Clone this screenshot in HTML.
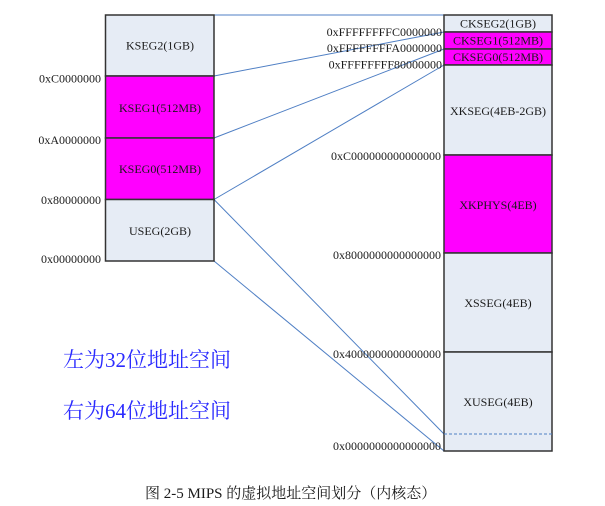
<!DOCTYPE html>
<html><head><meta charset="utf-8"><style>
html,body{margin:0;padding:0;background:#fff;}
svg{display:block;}
text{font-family:"Liberation Serif","Noto Serif CJK SC",serif;fill:#1a1a1a;}
</style></head><body>
<svg width="605" height="506" viewBox="0 0 605 506" xmlns="http://www.w3.org/2000/svg">
<!-- connector lines -->
<g stroke="#4f7fc4" stroke-width="1" fill="none">
<line x1="214" y1="15" x2="444" y2="15"/>
<line x1="214" y1="76" x2="444" y2="32"/>
<line x1="214" y1="138" x2="444" y2="49"/>
<line x1="214" y1="199.5" x2="444" y2="65"/>
<line x1="214" y1="199.5" x2="444" y2="434"/>
<line x1="214" y1="261" x2="444" y2="451"/>
</g>
<!-- left box -->
<g stroke="#333" stroke-width="1.5">
<rect x="105.5" y="15" width="108.5" height="61" fill="#e6ecf5"/>
<rect x="105.5" y="76" width="108.5" height="62" fill="#ff00ff"/>
<rect x="105.5" y="138" width="108.5" height="61.5" fill="#ff00ff"/>
<rect x="105.5" y="199.5" width="108.5" height="61.5" fill="#e6ecf5"/>
</g>
<g font-size="12" text-anchor="middle">
<text x="160" y="49.5">KSEG2(1GB)</text>
<text x="160" y="112">KSEG1(512MB)</text>
<text x="160" y="173">KSEG0(512MB)</text>
<text x="160" y="235">USEG(2GB)</text>
</g>
<g font-size="12" text-anchor="end">
<text x="101" y="82.5">0xC0000000</text>
<text x="101" y="144">0xA0000000</text>
<text x="101" y="204">0x80000000</text>
<text x="101" y="263">0x00000000</text>
</g>
<!-- right box -->
<g stroke="#333" stroke-width="1.5">
<rect x="444" y="15" width="108" height="17" fill="#e6ecf5"/>
<rect x="444" y="32" width="108" height="17" fill="#ff00ff"/>
<rect x="444" y="49" width="108" height="16" fill="#ff00ff"/>
<rect x="444" y="65" width="108" height="90" fill="#e6ecf5"/>
<rect x="444" y="155" width="108" height="98" fill="#ff00ff"/>
<rect x="444" y="253" width="108" height="99" fill="#e6ecf5"/>
<rect x="444" y="352" width="108" height="99" fill="#e6ecf5"/>
</g>
<line x1="444" y1="434" x2="552" y2="434" stroke="#4f7fc4" stroke-width="1" stroke-dasharray="3,2"/>
<g font-size="12" text-anchor="middle">
<text x="498" y="27.5">CKSEG2(1GB)</text>
<text x="498" y="44.5">CKSEG1(512MB)</text>
<text x="498" y="61">CKSEG0(512MB)</text>
<text x="498" y="115">XKSEG(4EB-2GB)</text>
<text x="498" y="209">XKPHYS(4EB)</text>
<text x="498" y="307">XSSEG(4EB)</text>
<text x="498" y="406">XUSEG(4EB)</text>
</g>
<g font-size="12" text-anchor="end">
<text x="442" y="36">0xFFFFFFFFC0000000</text>
<text x="442" y="52">0xFFFFFFFFA0000000</text>
<text x="442" y="68.5">0xFFFFFFFF80000000</text>
<text x="441" y="160">0xC000000000000000</text>
<text x="441" y="259">0x8000000000000000</text>
<text x="441" y="358">0x4000000000000000</text>
<text x="441" y="450">0x0000000000000000</text>
</g>
<!-- blue notes -->
<g font-size="21" style="fill:#2b2bff">
<text x="63" y="367" style="fill:#2b2bff">左为32位地址空间</text>
<text x="63" y="418" style="fill:#2b2bff">右为64位地址空间</text>
</g>
<!-- caption -->
<text x="145" y="498" font-size="15">图 2-5 MIPS 的虚拟地址空间划分（内核态）</text>
</svg>
</body></html>
